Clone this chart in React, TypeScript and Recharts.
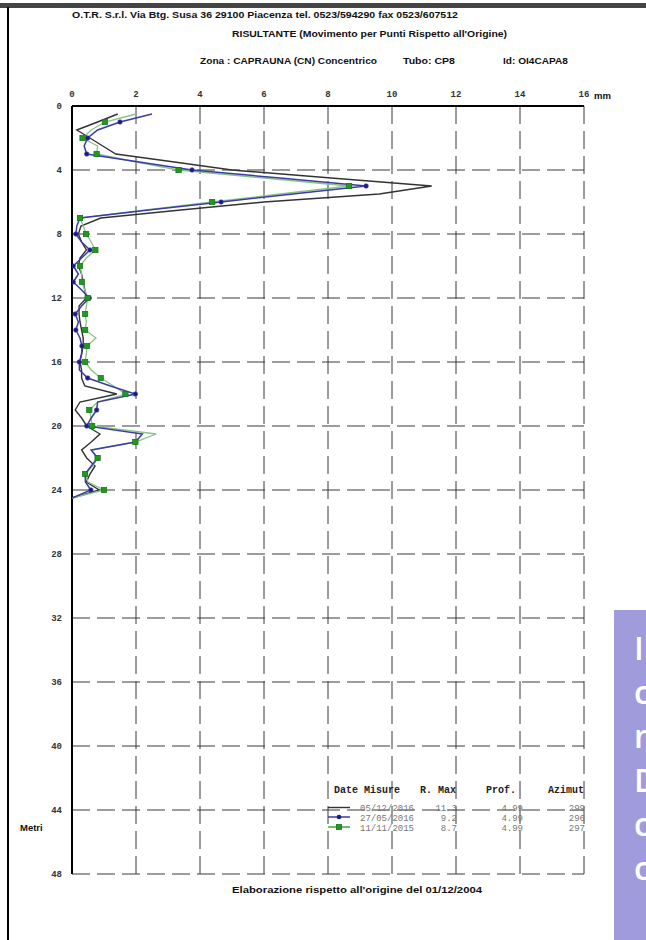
import React from 'react';
import { ScatterChart, Scatter, XAxis, YAxis, CartesianGrid } from 'recharts';

// depth (m) of each reading
const depths = [
  0.5, 1, 1.5, 2, 2.5, 3, 3.5, 4, 4.5, 5, 5.5, 6, 6.5, 7, 7.5, 8, 8.5, 9, 9.5, 10,
  10.5, 11, 11.5, 12, 12.5, 13, 13.5, 14, 14.5, 15, 15.5, 16, 16.5, 17, 17.5, 18, 18.5, 19, 19.5, 20,
  20.5, 21, 21.5, 22, 22.5, 23, 23.5, 24, 24.5,
];

// 05/12/2016 (mm)
const serie20161205 = [
  1.43, 0.8, 0.15, 0.56, 0.96, 1.37, 3.2, 5.0, 8.1, 11.24, 9.6, 6.0, 3.4, 0.9, 0.28, 0.2, 0.3, 0.45, 0.25, 0.2,
  0.3, 0.35, 0.4, 0.45, 0.22, 0.22, 0.25, 0.3, 0.35, 0.35, 0.3, 0.25, 0.3, 0.3, 0.4, 1.4, 0.25, 0.1, 0.3, 0.46,
  0.875, 0.6, 0.3, 0.46, 0.72, 0.56, 0.45, 0.85, 0.0,
];

// 27/05/2016 (mm)
const serie20160527 = [
  2.5, 1.5, 0.8, 0.49, 0.38, 0.46, 2.1, 3.75, 6.5, 9.19, 6.9, 4.66, 2.4, 0.25, 0.15, 0.12, 0.3, 0.56, 0.3, 0.04,
  0.2, 0.04, 0.3, 0.54, 0.3, 0.1, 0.2, 0.12, 0.25, 0.31, 0.3, 0.23, 0.23, 0.49, 1.2, 1.98, 0.8, 0.77, 0.6, 0.46,
  2.2, 1.98, 0.6, 0.8, 0.6, 0.41, 0.42, 0.59, 0.0,
];

// 11/11/2015 (mm)
const serie20151111 = [
  2.0, 1.03, 0.6, 0.33, 0.8, 0.77, 2.0, 3.33, 6.0, 8.66, 6.5, 4.38, 2.3, 0.25, 0.35, 0.44, 0.6, 0.73, 0.45, 0.25,
  0.3, 0.31, 0.4, 0.49, 0.45, 0.41, 0.45, 0.41, 0.75, 0.47, 0.45, 0.41, 0.6, 0.9, 1.3, 1.67, 0.8, 0.54, 0.6, 0.63,
  2.63, 1.98, 0.6, 0.8, 0.65, 0.41, 0.5, 1.0, 0.0,
];

const xTicks = [0, 2, 4, 6, 8, 10, 12, 14, 16];
const yTicks = [0, 4, 8, 12, 16, 20, 24, 28, 32, 36, 40, 44, 48];

const legendDates = ['05/12/2016', '27/05/2016', '11/11/2015'];
const legendRMax = ['11.3', '9.2', '8.7'];
const legendProf = ['4.99', '4.99', '4.99'];
const legendAzimut = ['299', '296', '297'];

const sideLetters = ['I', 'c', 'n', 'D', 'c', 'c'];

const toData = (vals: number[]) => depths.map((d, i) => ({ d, v: vals[i] }));
const dataBlack = toData(serie20161205);
const dataBlue = toData(serie20160527);
const dataGreen = toData(serie20151111);

const isMarked = (p: any) => {
  const d = p?.payload?.d ?? p?.d;
  return typeof d === 'number' && Number.isInteger(d);
};

const NoShape = () => <g />;
const BlueDot = (p: any) =>
  isMarked(p) ? <circle cx={p.cx} cy={p.cy} r={2.3} fill="#1a1a88" stroke="#4444aa" strokeWidth={0.6} /> : <g />;
const GreenSquare = (p: any) =>
  isMarked(p) ? (
    <rect x={p.cx - 2.7} y={p.cy - 2.7} width={5.4} height={5.4} fill="#1f9a1f" stroke="#0e6a0e" strokeWidth={0.6} />
  ) : (
    <g />
  );

const tickStyle = { fontSize: 9, fontFamily: '"Liberation Mono", monospace', fontWeight: 'bold', fill: '#333' };
const headFont = '"Liberation Sans", Arial, sans-serif';
const monoFont = '"Liberation Mono", "Courier New", monospace';

export default function App() {
  return (
    <div style={{ position: 'relative', width: 646, height: 940, background: '#fff', overflow: 'hidden' }}>
      <style>{`html,body{margin:0;padding:0;overflow:hidden;background:#fff}`}</style>
      <ScatterChart width={646} height={940} margin={{ top: 86, left: 42, right: 62, bottom: 66 }}>
        <CartesianGrid stroke="#3a3a3a" strokeDasharray="18 7" strokeWidth={1} />
        <XAxis
          type="number"
          dataKey="v"
          orientation="top"
          domain={[0, 16]}
          ticks={xTicks}
          interval={0}
          height={20}
          allowDataOverflow
          axisLine={{ stroke: '#000', strokeWidth: 2 }}
          tickLine={false}
          tickSize={0}
          tickMargin={9}
          tick={tickStyle}
        />
        <YAxis
          type="number"
          dataKey="d"
          reversed
          domain={[0, 48]}
          ticks={yTicks}
          interval={0}
          width={30}
          allowDataOverflow
          axisLine={{ stroke: '#000', strokeWidth: 2 }}
          tickLine={false}
          tickSize={0}
          tickMargin={10}
          tick={tickStyle}
        />
        <Scatter
          data={dataBlack}
          line={{ stroke: '#333', strokeWidth: 1.4 }}
          shape={NoShape}
          isAnimationActive={false}
        />
        <Scatter
          data={dataGreen}
          line={{ stroke: '#86c486', strokeWidth: 1.3 }}
          shape={NoShape}
          isAnimationActive={false}
        />
        <Scatter
          data={dataBlue}
          line={{ stroke: '#3c3ca4', strokeWidth: 1.5 }}
          shape={BlueDot}
          isAnimationActive={false}
        />
        <Scatter data={dataGreen} shape={GreenSquare} isAnimationActive={false} />
      </ScatterChart>

      <svg
        width={646}
        height={940}
        style={{ position: 'absolute', left: 0, top: 0, pointerEvents: 'none' }}
      >
        <rect x={0} y={3} width={646} height={5} fill="#454545" />
        <line x1={8} y1={7} x2={8} y2={940} stroke="#000" strokeWidth={2} />

        <g fontFamily={headFont} fontWeight="bold" fontSize={9.5} fill="#111">
          <text x={72} y={17.5} textLength={386} lengthAdjust="spacingAndGlyphs">
            O.T.R. S.r.l. Via Btg. Susa 36 29100 Piacenza tel. 0523/594290 fax 0523/607512
          </text>
          <text x={232} y={36.5} textLength={275} lengthAdjust="spacingAndGlyphs">
            RISULTANTE (Movimento per Punti Rispetto all'Origine)
          </text>
          <text x={200} y={63.5} textLength={177} lengthAdjust="spacingAndGlyphs">
            Zona : CAPRAUNA (CN) Concentrico
          </text>
          <text x={403} y={63.5} textLength={52} lengthAdjust="spacingAndGlyphs">
            Tubo: CP8
          </text>
          <text x={503} y={63.5} textLength={65} lengthAdjust="spacingAndGlyphs">
            Id: OI4CAPA8
          </text>
          <text x={594} y={99}>mm</text>
          <text x={20} y={831}>Metri</text>
          <text x={232} y={893} textLength={250} lengthAdjust="spacingAndGlyphs">
            Elaborazione rispetto all'origine del 01/12/2004
          </text>
        </g>

        <g fontFamily={monoFont}>
          <g fontWeight="bold" fontSize={10} fill="#222">
            <text x={334} y={793}>Date Misure</text>
            <text x={456} y={793} textAnchor="end">R. Max</text>
            <text x={516} y={793} textAnchor="end">Prof.</text>
            <text x={584} y={793} textAnchor="end">Azimut</text>
          </g>
          <g fontSize={9} fill="#777">
            {legendDates.map((t, i) => (
              <text key={'d' + i} x={360} y={811 + i * 10}>{t}</text>
            ))}
            {legendRMax.map((t, i) => (
              <text key={'r' + i} x={457} y={811 + i * 10} textAnchor="end">{t}</text>
            ))}
            {legendProf.map((t, i) => (
              <text key={'p' + i} x={523} y={811 + i * 10} textAnchor="end">{t}</text>
            ))}
            {legendAzimut.map((t, i) => (
              <text key={'a' + i} x={585} y={811 + i * 10} textAnchor="end">{t}</text>
            ))}
          </g>
          <line x1={328} y1={807.5} x2={350} y2={807.5} stroke="#333" strokeWidth={1.4} />
          <line x1={328} y1={817} x2={350} y2={817} stroke="#3c3ca4" strokeWidth={1.5} />
          <circle cx={339} cy={817} r={2.3} fill="#1a1a88" />
          <line x1={328} y1={827} x2={350} y2={827} stroke="#1f9a1f" strokeWidth={1.3} />
          <rect x={336.3} y={824.3} width={5.4} height={5.4} fill="#1f9a1f" stroke="#0e6a0e" strokeWidth={0.6} />
        </g>

        <rect x={614} y={610} width={40} height={340} fill="#a09cdc" />
        <g fontFamily='"Open Sans", sans-serif' fontWeight={600} fontSize={32} fill="#fff">
          {sideLetters.map((t, i) => (
            <text key={'s' + i} x={634} y={660 + i * 44}>{t}</text>
          ))}
        </g>
      </svg>
    </div>
  );
}
